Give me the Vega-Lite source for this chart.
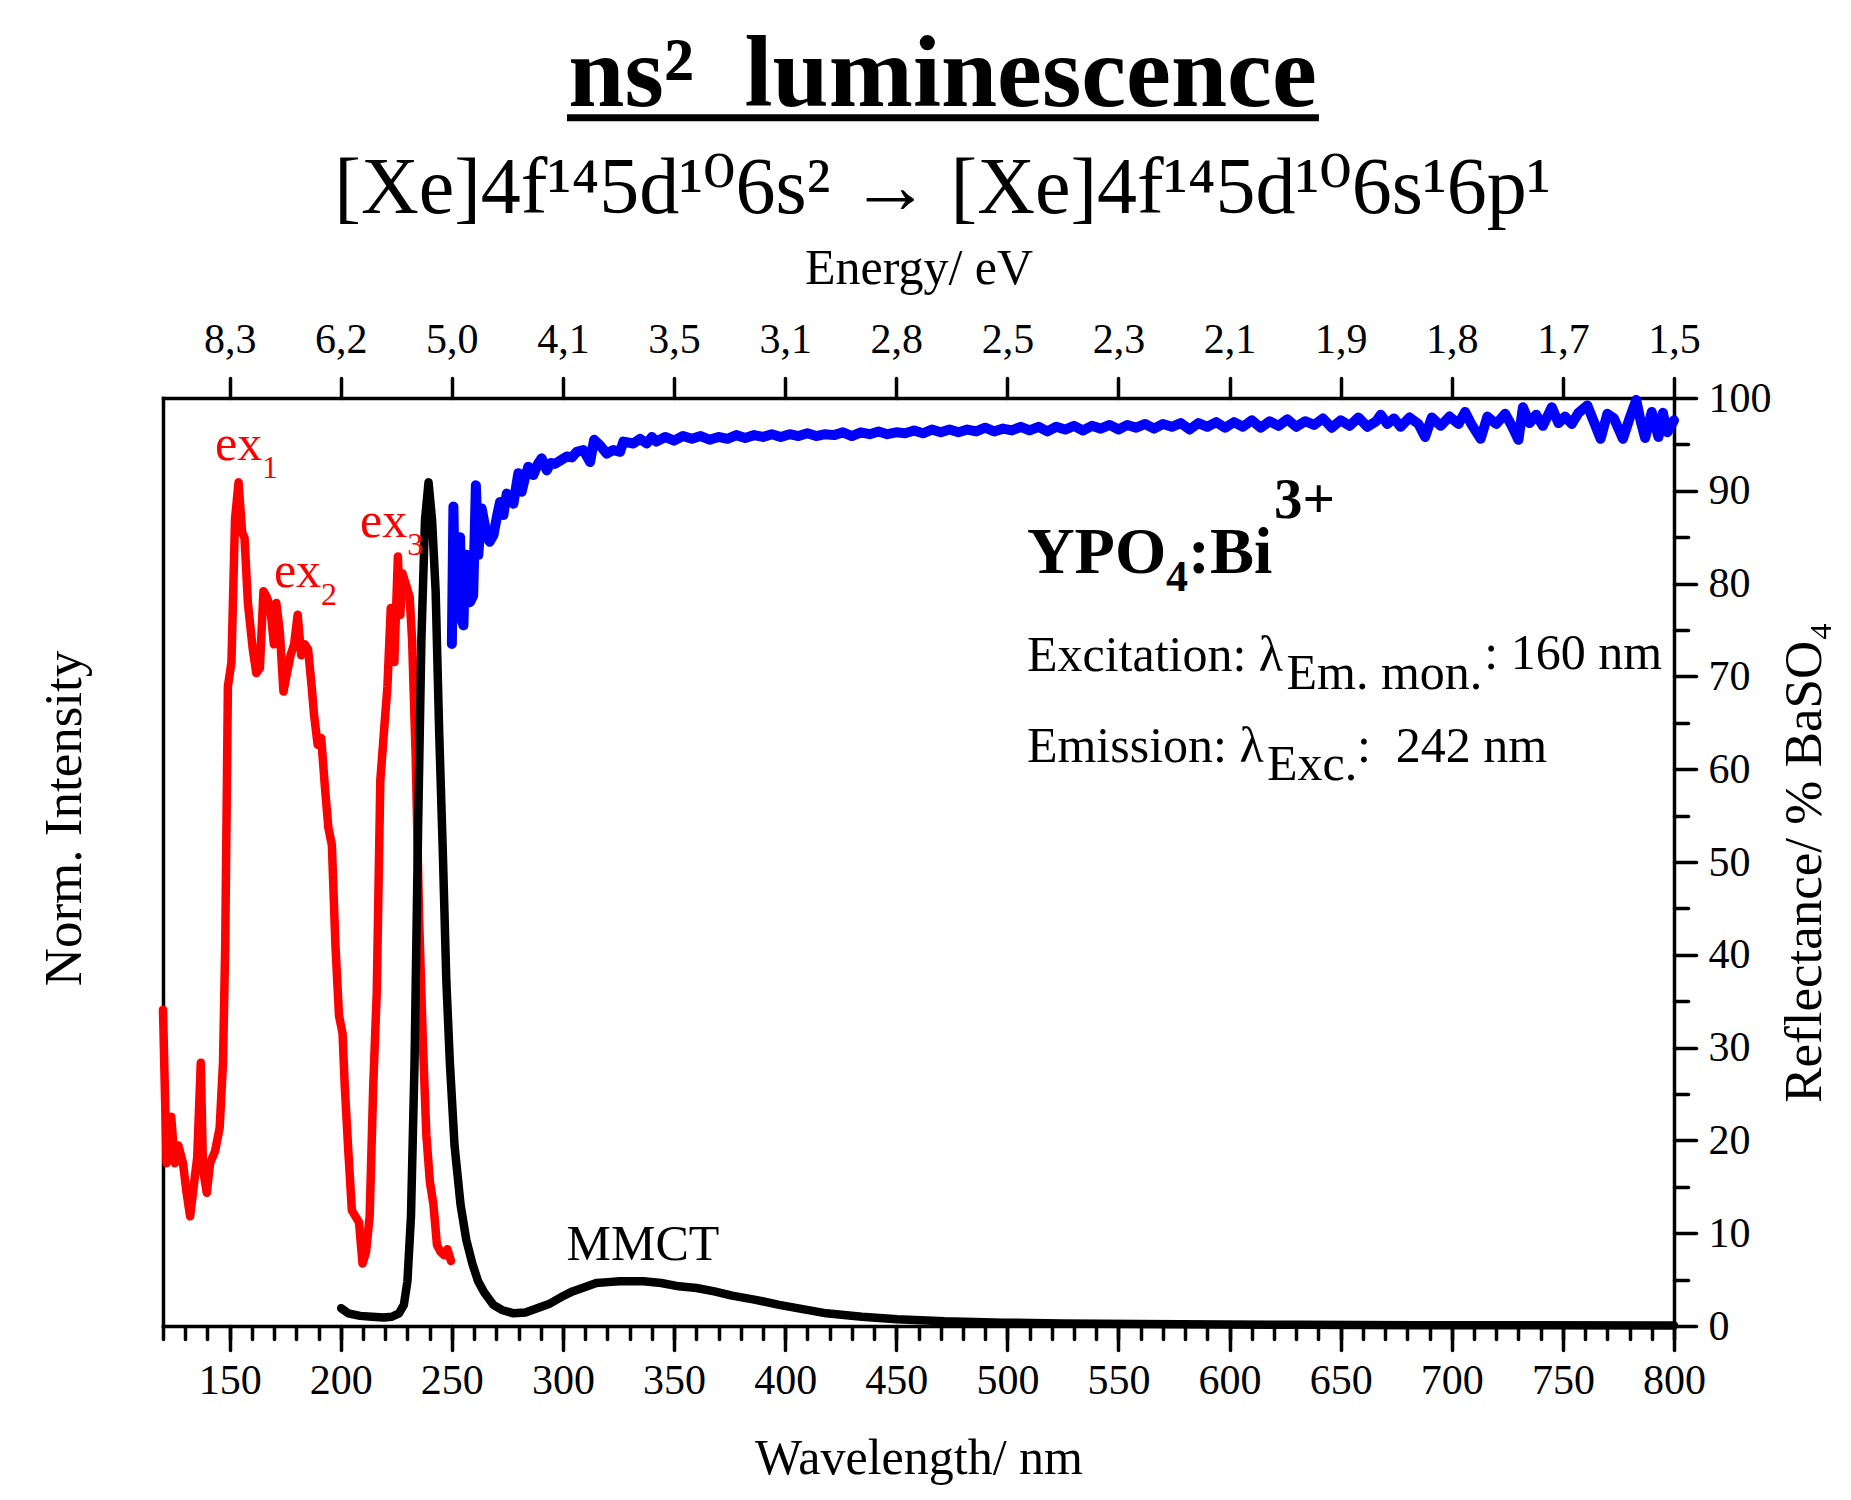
{
  "$schema": "https://vega.github.io/schema/vega-lite/v6.json",
  "width": 1511,
  "height": 928,
  "autosize": {"type": "none"},
  "padding": {"left": 163, "top": 398, "right": 177, "bottom": 174},
  "background": "white",
  "config": {
    "font": "Liberation Serif",
    "view": {"stroke": null},
    "title": {"font": "Liberation Serif, DejaVu Serif", "color": "black", "subtitleFont": "Liberation Serif, DejaVu Serif", "subtitleColor": "black"},
    "axis": {
      "labelFont": "Liberation Serif", "titleFont": "Liberation Serif, DejaVu Serif",
      "labelColor": "black", "titleColor": "black", "domainColor": "black", "tickColor": "black",
      "grid": false, "labelFontSize": 42, "titleFontSize": 50, "titleFontWeight": "normal",
      "domainWidth": 3.5, "tickWidth": 3.5, "tickCap": "round", "domainCap": "square",
      "labelOverlap": false, "labelFlush": false
    }
  },
  "title": {
    "text": "ns² \u00a0luminescence",
    "subtitle": "[Xe]4f¹⁴5d¹⁰6s² → [Xe]4f¹⁴5d¹⁰6s¹6p¹",
    "fontSize": 101, "fontWeight": "bold", "subtitleFontSize": 80, "subtitleFontWeight": "normal",
    "anchor": "middle", "frame": "group", "dx": 24, "dy": 133, "offset": 17, "subtitlePadding": 23
  },
  "datasets": {
    "ex": [
      {"wl":120,"intensity":0.375},{"wl":121.6,"intensity":0.193},{"wl":123.7,"intensity":0.248},{"wl":125.3,"intensity":0.193},
      {"wl":126.9,"intensity":0.214},{"wl":129,"intensity":0.193},{"wl":130.6,"intensity":0.158},{"wl":132.2,"intensity":0.130},
      {"wl":133.8,"intensity":0.165},{"wl":135.4,"intensity":0.200},{"wl":137,"intensity":0.312},{"wl":138,"intensity":0.186},
      {"wl":139.7,"intensity":0.158},{"wl":141.2,"intensity":0.193},{"wl":143.4,"intensity":0.207},{"wl":145.5,"intensity":0.235},
      {"wl":147,"intensity":0.312},{"wl":148,"intensity":0.451},{"wl":149.2,"intensity":0.758},{"wl":150.8,"intensity":0.787},
      {"wl":152.4,"intensity":0.956},{"wl":154,"intensity":1.0},{"wl":155.6,"intensity":0.941},{"wl":156.7,"intensity":0.934},
      {"wl":158.2,"intensity":0.857},{"wl":160.4,"intensity":0.802},{"wl":162,"intensity":0.774},{"wl":163.6,"intensity":0.780},
      {"wl":165.2,"intensity":0.871},{"wl":166.7,"intensity":0.864},{"wl":168.3,"intensity":0.851},{"wl":169.9,"intensity":0.808},
      {"wl":171,"intensity":0.857},{"wl":172.6,"intensity":0.822},{"wl":174.2,"intensity":0.752},{"wl":175.8,"intensity":0.774},
      {"wl":177.4,"intensity":0.795},{"wl":179,"intensity":0.808},{"wl":180.6,"intensity":0.843},{"wl":182.2,"intensity":0.795},
      {"wl":183.8,"intensity":0.808},{"wl":185.3,"intensity":0.802},{"wl":186.9,"intensity":0.758},{"wl":188,"intensity":0.724},
      {"wl":189.6,"intensity":0.689},{"wl":191.2,"intensity":0.697},{"wl":192.8,"intensity":0.641},{"wl":194.4,"intensity":0.591},
      {"wl":196,"intensity":0.570},{"wl":197.6,"intensity":0.451},{"wl":199.2,"intensity":0.368},{"wl":200.8,"intensity":0.347},
      {"wl":201.8,"intensity":0.284},{"wl":203.4,"intensity":0.207},{"wl":205,"intensity":0.137},{"wl":206.6,"intensity":0.130},
      {"wl":208.2,"intensity":0.123},{"wl":209.8,"intensity":0.074},{"wl":211.4,"intensity":0.088},{"wl":213,"intensity":0.130},
      {"wl":214.6,"intensity":0.284},{"wl":216.2,"intensity":0.396},{"wl":217.8,"intensity":0.647},{"wl":219.4,"intensity":0.703},
      {"wl":221,"intensity":0.758},{"wl":222.5,"intensity":0.851},{"wl":224.1,"intensity":0.787},{"wl":225.7,"intensity":0.912},
      {"wl":226.8,"intensity":0.843},{"wl":227.8,"intensity":0.892},{"wl":229.4,"intensity":0.878},{"wl":231,"intensity":0.864},
      {"wl":232.1,"intensity":0.813},{"wl":233.7,"intensity":0.676},{"wl":235.3,"intensity":0.479},{"wl":236.9,"intensity":0.341},
      {"wl":238.5,"intensity":0.227},{"wl":240.1,"intensity":0.171},{"wl":241.7,"intensity":0.144},{"wl":243.3,"intensity":0.096},
      {"wl":244.9,"intensity":0.088},{"wl":246.4,"intensity":0.084},{"wl":248,"intensity":0.091},{"wl":249.6,"intensity":0.077}
    ],
    "em": [
      {"wl":200.2,"intensity":0.021},{"wl":203.4,"intensity":0.015},{"wl":208.7,"intensity":0.012},{"wl":214,"intensity":0.011},
      {"wl":219.3,"intensity":0.010},{"wl":223,"intensity":0.011},{"wl":226.2,"intensity":0.015},{"wl":228.4,"intensity":0.025},
      {"wl":230,"intensity":0.053},{"wl":231.6,"intensity":0.130},{"wl":233.2,"intensity":0.312},{"wl":234.8,"intensity":0.591},
      {"wl":236.3,"intensity":0.815},{"wl":237.9,"intensity":0.955},{"wl":239.5,"intensity":1.0},{"wl":241.1,"intensity":0.955},
      {"wl":242.7,"intensity":0.871},{"wl":244.3,"intensity":0.703},{"wl":245.9,"intensity":0.564},{"wl":247.5,"intensity":0.410},
      {"wl":249.1,"intensity":0.312},{"wl":251.2,"intensity":0.214},{"wl":253.9,"intensity":0.144},{"wl":256.5,"intensity":0.102},
      {"wl":259.2,"intensity":0.074},{"wl":261.8,"intensity":0.053},{"wl":264.5,"intensity":0.040},{"wl":268.7,"intensity":0.025},
      {"wl":272.5,"intensity":0.019},{"wl":277.8,"intensity":0.015},{"wl":283.1,"intensity":0.016},{"wl":288.4,"intensity":0.021},
      {"wl":293.7,"intensity":0.026},{"wl":299,"intensity":0.034},{"wl":304.3,"intensity":0.041},{"wl":309.7,"intensity":0.046},
      {"wl":315,"intensity":0.051},{"wl":320.3,"intensity":0.052},{"wl":325.6,"intensity":0.053},{"wl":330.9,"intensity":0.053},
      {"wl":336.2,"intensity":0.053},{"wl":344.2,"intensity":0.051},{"wl":352.2,"intensity":0.047},{"wl":360.1,"intensity":0.045},
      {"wl":368.1,"intensity":0.041},{"wl":376.1,"intensity":0.036},{"wl":386.7,"intensity":0.031},{"wl":397.3,"intensity":0.025},
      {"wl":407.9,"intensity":0.020},{"wl":418.6,"intensity":0.015},{"wl":434.5,"intensity":0.011},{"wl":450.4,"intensity":0.008},
      {"wl":471.7,"intensity":0.0055},{"wl":498.2,"intensity":0.004},{"wl":524.8,"intensity":0.003},{"wl":577.9,"intensity":0.002},
      {"wl":631,"intensity":0.0015},{"wl":684,"intensity":0.001},{"wl":737,"intensity":0.001},{"wl":800,"intensity":0.0005}
    ],
    "refl": [
      {"wl":250.0,"r":73.5},{"wl":250.7,"r":88.3},{"wl":251.5,"r":76.5},{"wl":252.2,"r":78.0},{"wl":253.0,"r":84.5},{"wl":253.7,"r":85.0},
      {"wl":254.5,"r":76.0},{"wl":255.2,"r":75.5},{"wl":256.0,"r":82.5},{"wl":256.7,"r":83.1},{"wl":257.5,"r":79.0},{"wl":258.2,"r":78.0},
      {"wl":259.6,"r":78.7},{"wl":260.8,"r":90.6},{"wl":261.9,"r":83.1},{"wl":263.4,"r":88.1},{"wl":265.7,"r":85.2},{"wl":267.0,"r":84.5},
      {"wl":268.7,"r":85.2},{"wl":270.5,"r":87.5},{"wl":271.7,"r":88.8},{"wl":273.2,"r":87.4},{"wl":274.7,"r":89.7},{"wl":276.0,"r":89.5},
      {"wl":277.7,"r":88.6},{"wl":279.9,"r":91.9},{"wl":281.4,"r":89.9},{"wl":283.0,"r":91.5},{"wl":284.4,"r":92.6},{"wl":286.7,"r":91.7},
      {"wl":288.5,"r":92.8},{"wl":290.4,"r":93.5},{"wl":292.7,"r":92.2},{"wl":294.5,"r":93.0},{"wl":296.4,"r":92.9},{"wl":299.0,"r":93.3},
      {"wl":301.7,"r":93.7},{"wl":304.0,"r":93.6},{"wl":306.2,"r":94.2},{"wl":309.2,"r":94.4},{"wl":312.2,"r":93.1},{"wl":314.0,"r":95.5},
      {"wl":316.7,"r":94.9},{"wl":319.7,"r":94.0},{"wl":322.7,"r":94.4},{"wl":325.7,"r":94.2},{"wl":327.2,"r":95.3},{"wl":331.7,"r":95.1},
      {"wl":334.7,"r":95.6},{"wl":337.7,"r":95.1},{"wl":340.0,"r":95.8},
      {"wl":342,"r":95.3},{"wl":346,"r":95.8},{"wl":350,"r":95.4},{"wl":354,"r":95.9},{"wl":358,"r":95.6},{"wl":362,"r":95.9},
      {"wl":366,"r":95.5},{"wl":370,"r":95.8},{"wl":374,"r":95.6},{"wl":378,"r":96.0},{"wl":382,"r":95.7},{"wl":386,"r":96.0},
      {"wl":390,"r":95.8},{"wl":394,"r":96.1},{"wl":398,"r":95.8},{"wl":402,"r":96.1},{"wl":406,"r":95.9},{"wl":410,"r":96.2},
      {"wl":414,"r":95.9},{"wl":418,"r":96.1},{"wl":422,"r":96.0},{"wl":426,"r":96.3},{"wl":430,"r":95.9},{"wl":434,"r":96.3},
      {"wl":438,"r":96.1},{"wl":442,"r":96.4},{"wl":446,"r":96.1},{"wl":450,"r":96.3},{"wl":454,"r":96.2},{"wl":458,"r":96.5},
      {"wl":462,"r":96.2},{"wl":466,"r":96.6},{"wl":470,"r":96.3},{"wl":474,"r":96.6},{"wl":478,"r":96.3},{"wl":482,"r":96.6},
      {"wl":486,"r":96.4},{"wl":490,"r":96.8},{"wl":494,"r":96.4},{"wl":498,"r":96.7},{"wl":502,"r":96.5},{"wl":506,"r":96.9},
      {"wl":510,"r":96.5},{"wl":514,"r":96.9},{"wl":518,"r":96.4},{"wl":522,"r":96.9},{"wl":526,"r":96.6},{"wl":530,"r":97.0},
      {"wl":534,"r":96.5},{"wl":538,"r":97.0},{"wl":542,"r":96.7},{"wl":546,"r":97.1},{"wl":550,"r":96.6},{"wl":554,"r":97.1},
      {"wl":558,"r":96.8},{"wl":562,"r":97.2},{"wl":566,"r":96.7},{"wl":570,"r":97.2},{"wl":574,"r":96.9},{"wl":578,"r":97.3},
      {"wl":582,"r":96.6},{"wl":586,"r":97.3},{"wl":590,"r":96.9},{"wl":594,"r":97.4},{"wl":598,"r":96.8},{"wl":602,"r":97.4},
      {"wl":606,"r":96.9},{"wl":610,"r":97.6},{"wl":614,"r":96.8},{"wl":618,"r":97.5},{"wl":622,"r":97.0},{"wl":626,"r":97.7},
      {"wl":630,"r":96.9},{"wl":634,"r":97.5},{"wl":638,"r":97.1},{"wl":642,"r":97.8},{"wl":646,"r":96.8},{"wl":650,"r":97.6},
      {"wl":654,"r":97.0},{"wl":658,"r":97.9},{"wl":662,"r":96.9},{"wl":666,"r":97.5},{"wl":668,"r":98.2},{"wl":671,"r":97.2},
      {"wl":674,"r":97.8},{"wl":677,"r":96.9},{"wl":681,"r":97.9},{"wl":685,"r":97.2},{"wl":688,"r":95.8},{"wl":691,"r":97.9},
      {"wl":695,"r":97.0},{"wl":699,"r":98.0},{"wl":703,"r":97.2},{"wl":706,"r":98.5},{"wl":709,"r":97.1},{"wl":713,"r":95.6},
      {"wl":716,"r":98.0},{"wl":720,"r":97.2},{"wl":724,"r":98.3},{"wl":727,"r":97.0},{"wl":730,"r":95.5},{"wl":732,"r":99.0},
      {"wl":735,"r":97.3},{"wl":738,"r":98.2},{"wl":741,"r":97.0},{"wl":745,"r":99.0},{"wl":748,"r":97.3},{"wl":751,"r":98.0},
      {"wl":754,"r":97.2},{"wl":757,"r":98.4},{"wl":761,"r":99.2},{"wl":764,"r":97.4},{"wl":767,"r":95.6},{"wl":770,"r":98.3},
      {"wl":773,"r":97.8},{"wl":777,"r":95.6},{"wl":780,"r":97.8},{"wl":783,"r":99.8},{"wl":785,"r":97.5},{"wl":787,"r":95.7},
      {"wl":790,"r":98.5},{"wl":793,"r":95.8},{"wl":795,"r":98.4},{"wl":797,"r":96.3},{"wl":800,"r":97.6}
    ],
    "boldBig": [{"wl":508.8,"r":81.1,"t":"YPO"},{"wl":581.3,"r":81.1,"t":":Bi"}],
    "boldSub": [{"wl":571.4,"r":79.2,"t":"4"}],
    "boldSup": [{"wl":620,"r":87.1,"t":"3+"}],
    "plain": [
      {"wl":508.8,"r":70.6,"t":"Excitation: λ"},{"wl":625.6,"r":68.6,"t":"Em. mon."},{"wl":714.6,"r":70.8,"t":": 160 nm"},
      {"wl":508.8,"r":60.8,"t":"Emission: λ"},{"wl":616.8,"r":58.8,"t":"Exc."},{"wl":657.3,"r":60.8,"t":":\u00a0 242 nm"},
      {"wl":301.6,"r":7.1,"t":"MMCT"}
    ],
    "redBig": [{"wl":143.4,"r":93.3,"t":"ex"},{"wl":169.9,"r":79.6,"t":"ex"},{"wl":208.7,"r":85.0,"t":"ex"}],
    "redSub": [{"wl":164.6,"r":91.4,"t":"1"},{"wl":191.1,"r":77.7,"t":"2"},{"wl":229.9,"r":83.1,"t":"3"}],
    "uline": [{"wl":301.8,"wl2":640.2,"r":130.2}]
  },
  "resolve": {"scale": {"y": "independent"}, "axis": {"x": "independent", "y": "independent"}},
  "layer": [
    {
      "data": {"name": "ex"},
      "mark": {"type": "line", "color": "#ff0000", "strokeWidth": 8.5, "strokeJoin": "round", "strokeCap": "round"},
      "encoding": {
        "x": {"field": "wl", "type": "quantitative", "scale": {"domain": [120, 800], "nice": false, "zero": false},
              "axis": {"orient": "bottom", "values": [150,200,250,300,350,400,450,500,550,600,650,700,750,800], "tickSize": 24, "labelPadding": 10, "title": "Wavelength/ nm", "titlePadding": 32}},
        "y": {"field": "intensity", "type": "quantitative", "scale": {"domain": [0, 1.1], "nice": false, "zero": true},
              "axis": {"orient": "left", "title": "Norm. Intensity", "labels": false, "ticks": false, "titleFontSize": 53, "titlePadding": 72, "titleY": 420}}
      }
    },
    {
      "data": {"name": "em"},
      "mark": {"type": "line", "color": "#000000", "strokeWidth": 8.5, "strokeJoin": "round", "strokeCap": "round"},
      "encoding": {
        "x": {"field": "wl", "type": "quantitative", "scale": {"domain": [120, 800], "nice": false, "zero": false}, "axis": null},
        "y": {"field": "intensity", "type": "quantitative", "scale": {"domain": [0, 1.1], "nice": false, "zero": true}, "axis": null}
      }
    },
    {
      "data": {"name": "refl"},
      "mark": {"type": "line", "color": "#0000ff", "strokeWidth": 10, "strokeJoin": "round", "strokeCap": "round"},
      "encoding": {
        "x": {"field": "wl", "type": "quantitative", "scale": {"domain": [120, 800], "nice": false, "zero": false},
              "axis": {"orient": "top", "values": [150,200,250,300,350,400,450,500,550,600,650,700,750,800], "tickSize": 20, "labelPadding": 17,
                       "labelExpr": "replace(format(1239.84/datum.value, '.1f'), '.', ',')", "title": "Energy/ eV", "titlePadding": 25}},
        "y": {"field": "r", "type": "quantitative", "scale": {"domain": [0, 100], "nice": false, "zero": true},
              "axis": {"orient": "right", "values": [0,10,20,30,40,50,60,70,80,90,100], "tickSize": 22, "labelPadding": 12,
                       "title": "Reflectance/ % BaSO₄", "titleAngle": 270, "titleFontSize": 53, "titlePadding": 60}}
      }
    },
    {
      "data": {"name": "boldBig"},
      "mark": {"type": "text", "align": "left", "baseline": "alphabetic", "fontSize": 66, "fontWeight": "bold", "color": "black"},
      "encoding": {
        "x": {"field": "wl", "type": "quantitative", "scale": {"domain": [120, 800], "nice": false, "zero": false}, "axis": null},
        "y": {"field": "r", "type": "quantitative", "scale": {"domain": [0, 100], "nice": false, "zero": true}, "axis": null},
        "text": {"field": "t"}
      }
    },
    {
      "data": {"name": "boldSub"},
      "mark": {"type": "text", "align": "left", "baseline": "alphabetic", "fontSize": 44, "fontWeight": "bold", "color": "black"},
      "encoding": {
        "x": {"field": "wl", "type": "quantitative", "scale": {"domain": [120, 800], "nice": false, "zero": false}, "axis": null},
        "y": {"field": "r", "type": "quantitative", "scale": {"domain": [0, 100], "nice": false, "zero": true}, "axis": null},
        "text": {"field": "t"}
      }
    },
    {
      "data": {"name": "boldSup"},
      "mark": {"type": "text", "align": "left", "baseline": "alphabetic", "fontSize": 57, "fontWeight": "bold", "color": "black"},
      "encoding": {
        "x": {"field": "wl", "type": "quantitative", "scale": {"domain": [120, 800], "nice": false, "zero": false}, "axis": null},
        "y": {"field": "r", "type": "quantitative", "scale": {"domain": [0, 100], "nice": false, "zero": true}, "axis": null},
        "text": {"field": "t"}
      }
    },
    {
      "data": {"name": "plain"},
      "mark": {"type": "text", "align": "left", "baseline": "alphabetic", "fontSize": 50, "color": "black"},
      "encoding": {
        "x": {"field": "wl", "type": "quantitative", "scale": {"domain": [120, 800], "nice": false, "zero": false}, "axis": null},
        "y": {"field": "r", "type": "quantitative", "scale": {"domain": [0, 100], "nice": false, "zero": true}, "axis": null},
        "text": {"field": "t"}
      }
    },
    {
      "data": {"name": "redBig"},
      "mark": {"type": "text", "align": "left", "baseline": "alphabetic", "fontSize": 50, "color": "#ff0000"},
      "encoding": {
        "x": {"field": "wl", "type": "quantitative", "scale": {"domain": [120, 800], "nice": false, "zero": false}, "axis": null},
        "y": {"field": "r", "type": "quantitative", "scale": {"domain": [0, 100], "nice": false, "zero": true}, "axis": null},
        "text": {"field": "t"}
      }
    },
    {
      "data": {"name": "redSub"},
      "mark": {"type": "text", "align": "left", "baseline": "alphabetic", "fontSize": 32, "color": "#ff0000"},
      "encoding": {
        "x": {"field": "wl", "type": "quantitative", "scale": {"domain": [120, 800], "nice": false, "zero": false}, "axis": null},
        "y": {"field": "r", "type": "quantitative", "scale": {"domain": [0, 100], "nice": false, "zero": true}, "axis": null},
        "text": {"field": "t"}
      }
    },
    {
      "data": {"name": "uline"},
      "mark": {"type": "rule", "color": "black", "strokeWidth": 7, "clip": false},
      "encoding": {
        "x": {"field": "wl", "type": "quantitative", "scale": {"domain": [120, 800], "nice": false, "zero": false},
              "axis": {"orient": "bottom", "values": [120,130,140,150,160,170,180,190,200,210,220,230,240,250,260,270,280,290,300,310,320,330,340,350,360,370,380,390,400,410,420,430,440,450,460,470,480,490,500,510,520,530,540,550,560,570,580,590,600,610,620,630,640,650,660,670,680,690,700,710,720,730,740,750,760,770,780,790,800],
                       "tickSize": 13, "labels": false, "domain": false, "title": null}},
        "x2": {"field": "wl2"},
        "y": {"field": "r", "type": "quantitative", "scale": {"domain": [0, 100], "nice": false, "zero": true},
              "axis": {"orient": "right", "values": [5,15,25,35,45,55,65,75,85,95], "tickSize": 14, "labels": false, "domain": false, "title": null}}
      }
    }
  ]
}
